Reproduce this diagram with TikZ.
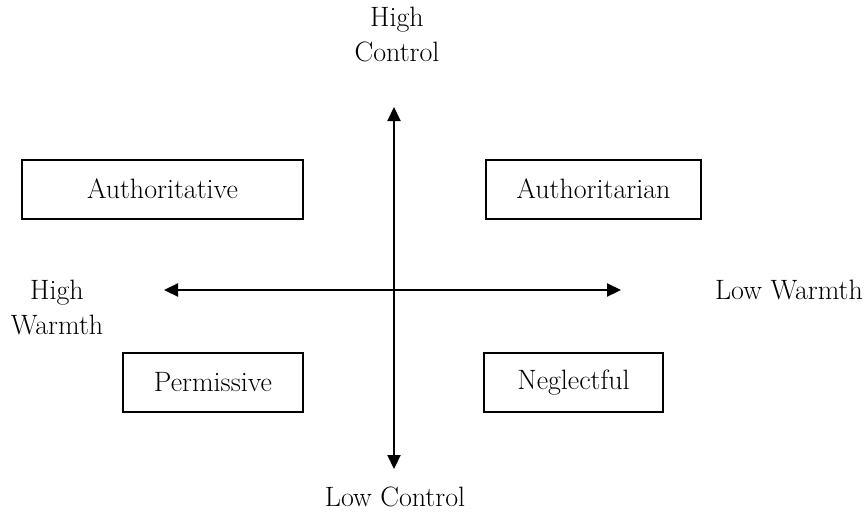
\documentclass[tikz,border=0pt]{standalone}
\usetikzlibrary{arrows.meta}
\begin{document}
\begin{tikzpicture}[x=1pt,y=-1pt,
  lbl/.style={font=\fontsize{28}{35}\selectfont, align=center, inner sep=0pt},
  stylebox/.style={draw, line width=2pt, minimum height=59pt, inner sep=0pt, font=\fontsize{28}{30}\selectfont},
  axis/.style={line width=2.2pt, {Triangle[length=14pt,width=13pt]}-{Triangle[length=14pt,width=13pt]}}]
\useasboundingbox (0,0) rectangle (867,517);
\node[stylebox, minimum width=281pt] (a1) at (162.5,189) {Authoritative};
\node[stylebox, minimum width=215pt] (a2) at (593.5,189) {Authoritarian};
\node[stylebox, minimum width=180pt] (p) at (213,382.5) {Permissive};
\node[stylebox, minimum width=179pt] (n) at (573.5,382.5) {Neglectful};
\coordinate (top) at (394,107);
\coordinate (bot) at (394,469);
\coordinate (lft) at (164,290);
\coordinate (rgt) at (621,290);
\draw[axis] (top) -- (bot);
\draw[axis] (lft) -- (rgt);
\node[lbl] (hc) at (397,35) {High\\Control};
\node[lbl] (hw) at (57,308) {High\\Warmth};
\node[lbl] (lw) at (789,290) {Low Warmth};
\node[lbl] (lc) at (395,497) {Low Control};
\end{tikzpicture}
\end{document}
